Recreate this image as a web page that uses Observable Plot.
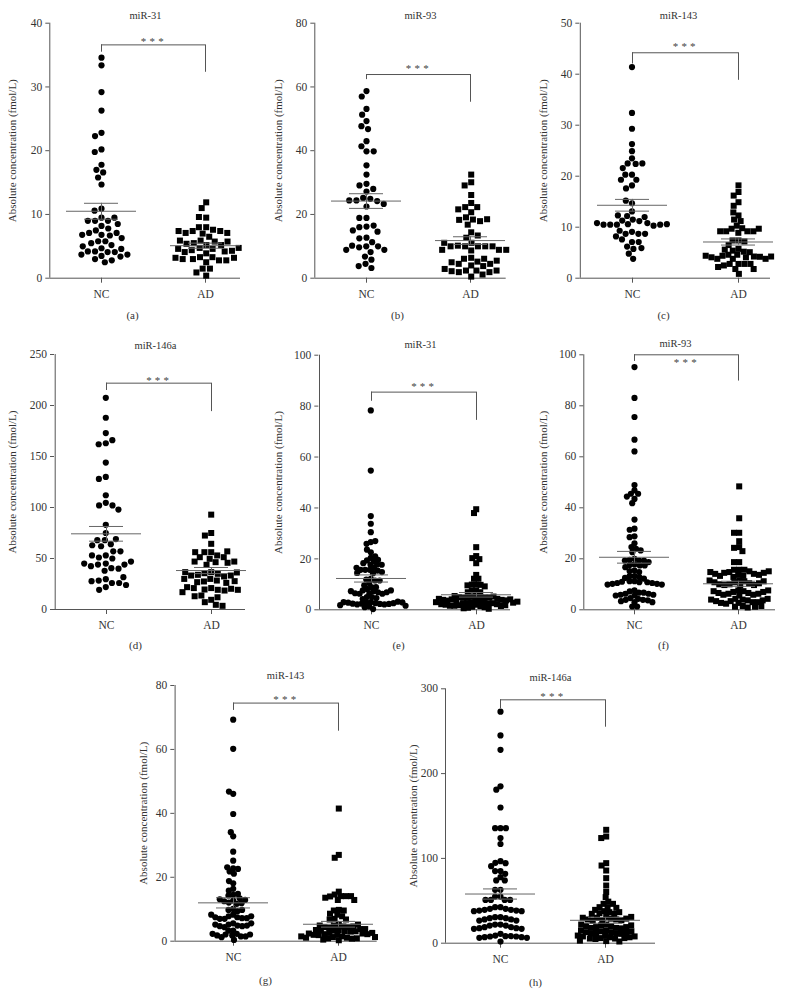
<!DOCTYPE html>
<html>
<head>
<meta charset="utf-8">
<script src="https://cdn.jsdelivr.net/npm/d3@7"></script>
<script src="https://cdn.jsdelivr.net/npm/@observablehq/plot@0.6"></script>
<style>
  body { margin: 0; background: #fff; }
  #fig { position: relative; width: 797px; height: 995px; background: #fff; overflow: hidden; }
  #fig > svg { position: absolute; }
</style>
</head>
<body>
<div id="fig"></div>
<script>
// ---------------- data ----------------
const groups = ["NC", "AD"];
const titles = ["miR-31", "miR-93", "miR-143", "miR-146a", "miR-31", "miR-93", "miR-143", "miR-146a"];
const letters = ["(a)", "(b)", "(c)", "(d)", "(e)", "(f)", "(g)", "(h)"];
const yLabel = "Absolute concentration (fmol/L)";
const stars = "***";

const aTicks = [0, 10, 20, 30, 40];
const bTicks = [0, 20, 40, 60, 80];
const cTicks = [0, 10, 20, 30, 40, 50];
const dTicks = [0, 50, 100, 150, 200, 250];
const eTicks = [0, 20, 40, 60, 80, 100];
const fTicks = [0, 20, 40, 60, 80, 100];
const gTicks = [0, 20, 40, 60, 80];
const hTicks = [0, 100, 200, 300];

const aNC = [34.6,33.4,29.2,26.3,22.8,22.3,20.2,19.8,17.8,17.0,16.6,15.8,14.7,10.9,10.6,9.5,9.0,9.0,9.0,9.5,8.2,8.5,7.5,7.8,6.8,6.7,7.1,7.1,6.8,5.8,5.8,5.5,6.3,5.2,4.7,4.2,4.1,4.1,4.2,4.6,5.0,3.7,3.5,3.4,3.7,3.0,2.5,2.8];
const aAD = [11.9,11.0,9.5,9.6,8.0,8.0,7.6,7.4,7.4,7.0,7.1,7.1,7.4,6.5,5.9,5.75,5.5,5.2,5.2,5.4,5.75,5.9,4.75,4.6,4.4,4.2,3.9,4.1,4.3,4.6,4.75,3.3,3.3,3.0,2.8,2.5,2.8,3.0,3.2,3.2,1.5,1.5,0.9,0.4];

const bNC = [58.7,57.0,53.1,51.3,49.3,47.7,46.8,43.0,41.4,39.8,39.8,35.4,32.5,29.6,29.1,27.2,28.0,25.2,24.9,24.4,24.2,24.4,23.3,22.5,18.9,18.9,16.2,16.0,16.5,14.6,15.0,12.7,12.5,11.3,10.0,9.7,10.0,10.2,8.9,8.9,8.2,6.8,5.8,4.5,3.8,3.2];
const bAD = [32.5,30.1,29.1,26.1,23.6,22.3,22.3,21.6,20.7,19.1,18.4,17.9,16.8,18.3,18.5,14.4,12.7,13.4,11.1,10.0,10.0,10.2,10.0,10.0,10.0,11.1,8.9,8.9,8.7,8.9,6.4,6.1,5.2,4.5,4.0,3.8,4.5,5.0,5.5,6.1,2.4,2.4,1.9,1.15,1.9,2.2,2.4,2.9,0.5];

const cNC = [41.4,32.4,29.3,26.3,24.9,23.5,22.5,22.4,22.5,21.6,20.3,20.3,19.3,19.3,18.2,17.6,14.7,15.2,13.1,12.2,11.5,11.2,11.3,12.0,12.3,10.8,10.6,10.5,10.3,10.5,10.5,10.5,10.6,10.8,9.1,8.7,8.7,9.3,8.7,7.1,7.6,8.2,7.1,6.2,5.75,5.9,4.8,3.8];
const cAD = [18.2,16.9,16.2,14.9,14.2,12.3,12.9,11.5,11.2,10.3,9.8,9.7,9.2,8.9,9.2,9.2,9.2,9.7,7.4,7.4,7.2,6.5,5.75,5.4,5.2,4.6,4.6,5.1,5.6,4.4,4.25,4.2,4.1,3.8,3.8,3.8,4.1,4.25,4.4,2.8,2.8,2.8,2.8,2.5,1.8,1.8,2.2,0.85];

const dNC = [207.5,188,173,163,162,166,144,130,128,112,104.6,102,102,98,83,75,68,64,62,68,69,63,53,51,50,57,57,53,45,44,40.5,40,38,42.5,44,45,47,29.7,28.4,26,26,27.8,31.7,24,22,19.3];
const dAD = [93,75,72.5,64.4,56.2,56.2,53,51.3,49.7,51.3,56.2,57,46.4,47,43.8,45.8,47,36.6,35.6,35,34,32.4,33.3,33.3,36.3,36.6,30,30,28.4,27.5,26.8,27.8,26.1,21,19.6,19.3,21,18.6,20.3,21.9,19.3,17,9.5,13.7,12,13,7.2,4.6,3.6];

const eNC = [78.3,54.7,36.8,33.8,30.5,26.6,25.9,27.0,22.6,23.6,20.4,19.4,19.0,19.6,21.0,18.3,17.7,17.8,17.7,16.5,15.7,15.7,15.4,15.7,16.5,14.8,14.4,14.5,12.2,11.9,11.5,10.5,8.9,8.2,8.9,9.6,11.5,7.6,7.3,6.9,6.5,6.3,6.3,6.5,6.9,7.3,7.6,5.0,5.0,4.6,4.2,3.0,2.8,2.6,2.4,2.3,2.1,2.1,2.3,2.4,2.6,2.8,3.0,3.2,2.9,1.8,1.6,1.3,1.0,0.3];
const eAD = [39.5,38.0,24.6,21.1,20.3,19.9,18.3,13.7,12.2,12.2,9.9,9.9,9.8,9.6,9.2,7.6,7.6,6.9,6.9,5.4,5.2,5.0,4.8,4.7,4.7,4.8,5.0,5.2,5.4,4.3,4.1,3.9,3.7,3.6,3.6,3.7,3.9,4.1,4.3,3.2,3.0,2.8,2.6,2.5,2.5,2.6,2.8,3.0,3.2,2.2,2.0,1.8,1.6,1.5,1.5,1.6,1.8,2.0,2.2,1.2,1.0,0.8,0.6,0.4];

const fNC = [95.2,83.1,75.6,66.7,62.1,48.9,46.8,45.5,45.5,44.4,43.5,41.8,35.4,31.8,31.4,28.8,28.5,26.1,24.6,23.9,23.3,22.6,20.0,19.6,19.3,19.3,19.3,18.7,17.8,17.6,17.4,17.4,16.7,15.4,15.2,14.8,13.2,13.2,12.8,12.5,12.2,11.2,11.2,11.0,10.8,10.8,10.5,10.5,10.2,10.2,9.9,9.9,7.6,7.2,6.7,6.7,6.3,6.3,5.9,5.9,5.6,5.6,4.6,4.3,3.9,3.9,3.7,3.4,3.0,3.0,1.3,1.3];
const fAD = [48.4,35.9,30.2,30.2,26.9,24.6,24.3,23.0,18.7,18.7,15.7,15.7,15.7,15.1,14.8,14.5,14.1,13.7,13.3,12.9,13.3,13.7,14.1,14.5,14.8,15.1,11.5,11.2,10.8,10.4,10.0,9.7,9.5,9.7,10.0,10.4,10.8,11.2,11.5,7.6,7.3,7.0,6.6,6.3,5.9,5.6,5.9,6.3,6.6,7.0,7.3,7.6,4.3,4.0,3.7,3.4,3.0,2.7,2.4,2.7,3.0,3.4,3.7,4.0,4.3,1.5,1.2,0.9,1.2,1.5];

const gNC = [69.3,60.2,46.1,46.8,39.8,32.8,34.1,28.0,25.2,22.8,21.8,21.1,22.6,23.1,16.4,18.1,18.8,15.8,14.5,14.3,14.8,13.4,12.7,12.1,11.7,11.9,12.5,12.9,13.1,10.1,9.8,9.4,9.8,8.3,7.8,7.5,7.2,7.0,7.0,7.2,7.5,7.8,8.3,5.6,5.2,4.9,4.7,4.4,4.7,4.9,5.2,5.6,3.3,3.3,2.3,2.1,1.8,1.5,1.25,1.5,1.8,2.1,2.3,0.4];
const gAD = [41.5,27.0,26.1,15.5,14.6,14.1,14.1,14.0,14.1,13.6,12.9,12.9,9.8,9.6,9.6,8.6,8.3,7.8,7.0,6.8,6.8,5.2,4.9,4.6,4.4,4.2,4.4,4.6,4.9,5.2,3.8,3.5,3.3,3.1,3.0,3.1,3.3,3.5,3.8,2.6,2.4,2.2,2.0,1.9,2.0,2.2,2.4,2.6,1.5,1.3,1.1,0.9,0.8,0.9,1.1,1.3,1.5,0.5,0.3];

const hNC = [273,245,228,185,181,160,135.6,135.6,135.6,124,117,96.7,94.8,94.4,90.8,85,85,81.8,77.9,74,74,63,63,55,55,51,51,51,51,42.5,42.5,40.5,40.5,39.3,39.3,38.5,38.5,37.8,37.8,30.7,30.7,29.5,29.5,28,28,26.7,26.7,22,22,20.8,20.8,18.9,18.9,17.7,17.7,16.9,16.9,11,9,8.3,8.3,7.9,7.9,7.1,7.1,6.3,6.3,2];
const hAD = [133.7,125.8,124,94.4,91.6,85.7,76.7,68,60.4,54.3,49,46.4,46.4,42.5,42.5,41.7,39.3,37.8,36.6,36.6,35.4,34.6,34.6,31,30,29,28,27,26.5,27,28,29,30,31,22,21,20,19,18,17.5,18,19,20,21,22,15,14,13,12,11.5,11,11.5,12,13,14,15,9,8,7,6,5.5,5,5.5,6,7,8,9,3,2.5,2];

// mean and SEM, panels a..h
const meanNC = [10.5, 24.2, 14.3, 74.2, 12.3, 20.6, 12.0, 58.0];
const semNC  = [1.25, 2.3, 1.15, 7.2, 1.4, 2.3, 1.6, 6.0];
const meanAD = [5.1, 11.8, 7.1, 38.2, 5.9, 10.2, 5.3, 27.0];
const semAD  = [0.4, 1.2, 0.6, 3.0, 0.9, 1.0, 0.9, 3.5];

// significance bracket: top, NC leg end, AD leg end
const bracketTop   = [36.6, 63.9, 44.2, 221.9, 85.5, 100, 74.5, 287];
const bracketLeft  = [35.45, 62.3, 42.0, 214.7, 81.9, 97.4, 72.2, 276.4];
const bracketRight = [32.3, 55.2, 38.8, 194, 74.4, 89.7, 65.7, 254.7];

// ---------------- layout (pixels on the page) ----------------
const layout = [
  {box:[0,0,265,330],    axisX:49.3,  yTop:22.7,  y0:277.7, nc:101,   ad:205.7, xEnd:240,   title:[145,14.7],  letter:[132,315], labelDx:-37,   starDy:-6,   padNC:1,    padAD:0.5},
  {box:[265,0,265,330],  axisX:314.3, yTop:22.7,  y0:277.7, nc:366,   ad:470.7, xEnd:505.7, title:[420,14.7],  letter:[397,315], labelDx:-36,   starDy:-9,   padNC:1,    padAD:0.5},
  {box:[530,0,267,330],  axisX:579.3, yTop:22.7,  y0:277.7, nc:631.5, ad:738,   xEnd:770,   title:[678,14.7],  letter:[663,315], labelDx:-36,   starDy:-8.5, padNC:0.5,  padAD:-0.8},
  {box:[0,330,265,330],  axisX:54,    yTop:354,   y0:609,   nc:105.3, ad:210.7, xEnd:245,   title:[155,344.7], letter:[135,645], labelDx:-42,   starDy:-5,   padNC:1,    padAD:0},
  {box:[265,330,265,330],axisX:318.3, yTop:354.7, y0:609.3, nc:370.3, ad:475.7, xEnd:510,   title:[420,344],   letter:[398,645], labelDx:-40,   starDy:-8.5, padNC:-1.6, padAD:-2.4},
  {box:[530,330,267,330],axisX:583.3, yTop:354.3, y0:609.3, nc:634,   ad:738.7, xEnd:775,   title:[675,343.3], letter:[663,645], labelDx:-40,   starDy:5.5,  padNC:-1.3, padAD:-1.6},
  {box:[130,660,270,335],axisX:174.3, yTop:685,   y0:940.7, nc:232.7, ad:338.3, xEnd:376.7, title:[285,675],   letter:[265,980], labelDx:-31,   starDy:-6,   padNC:-1.4, padAD:-1.8},
  {box:[400,660,270,335],axisX:445,   yTop:688.3, y0:942.7, nc:500,   ad:605.7, xEnd:655,   title:[550,676.7], letter:[535,982], labelDx:-32.5, starDy:-6,   padNC:-0.8, padAD:-1.6}
];

const panels = [
  [aNC, aAD, aTicks], [bNC, bAD, bTicks], [cNC, cAD, cTicks], [dNC, dAD, dTicks],
  [eNC, eAD, eTicks], [fNC, fAD, fTicks], [gNC, gAD, gTicks], [hNC, hAD, hTicks]
];

const AXIS = "#555";
const TXT = "#333";
const FONT = "Liberation Serif, Times New Roman, serif";

const fig = document.getElementById("fig");

panels.forEach(([NC, AD, ticks], i) => {
  const L = layout[i];
  const [bx, by, bw, bh] = L.box;
  const marginLeft = L.axisX - bx;
  const marginRight = bx + bw - L.xEnd;
  const marginTop = L.yTop - by;
  const marginBottom = by + bh - L.y0;
  const frameMid = (L.axisX + L.xEnd) / 2;
  const ymax = ticks[ticks.length - 1];

  const ncData = NC.map(v => ({g: "NC", v}));
  const adData = AD.map(v => ({g: "AD", v}));
  const stats = [
    {g: "NC", m: meanNC[i], lo: meanNC[i] - semNC[i], hi: meanNC[i] + semNC[i]},
    {g: "AD", m: meanAD[i], lo: meanAD[i] - semAD[i], hi: meanAD[i] + semAD[i]}
  ];
  const yAxisLine = [{g: "NC", y1: 0, y2: ymax}];
  const legs = [
    {g: "NC", y1: bracketLeft[i], y2: bracketTop[i]},
    {g: "AD", y1: bracketRight[i], y2: bracketTop[i]}
  ];
  const topBar = [{x1: "NC", x2: "AD", y: bracketTop[i]}];

  const svg = Plot.plot({
    width: bw, height: bh,
    marginLeft, marginRight, marginTop, marginBottom,
    style: {background: "transparent", fontFamily: FONT, color: TXT, overflow: "visible"},
    x: {type: "point", domain: groups, range: [L.nc - bx, L.ad - bx], padding: 0},
    y: {domain: [0, ymax]},
    marks: [
      Plot.ruleY([0], {stroke: AXIS, strokeWidth: 1}),
      Plot.ruleX(yAxisLine, {x: "g", y1: "y1", y2: "y2", dx: L.axisX - L.nc, stroke: AXIS, strokeWidth: 1}),
      Plot.axisY({ticks, tickSize: 4, tickPadding: 3.5, label: null, stroke: AXIS, fill: TXT, fontSize: 11.5, fontFamily: FONT}),
      Plot.axisX({tickSize: 5, tickPadding: 6.5, label: null, stroke: AXIS, fill: TXT, fontSize: 11.5, fontFamily: FONT}),
      Plot.dot(ncData, Plot.dodgeX({anchor: "middle", padding: L.padNC}, {y: "v", r: 3.1, fill: "#000", stroke: null, dx: L.nc - frameMid})),
      Plot.dot(adData, Plot.dodgeX({anchor: "middle", padding: L.padAD}, {y: "v", r: 3.4, symbol: "square", fill: "#000", stroke: null, dx: L.ad - frameMid})),
      // mean lines
      Plot.ruleY(stats, {x1: "g", x2: "g", y: "m", insetLeft: -35, insetRight: -35, stroke: "#666", strokeWidth: 1}),
      // SEM bars + caps
      Plot.ruleX(stats, {x: "g", y1: "lo", y2: "hi", stroke: "#666", strokeWidth: 1}),
      Plot.ruleY(stats, {x1: "g", x2: "g", y: "hi", insetLeft: -17, insetRight: -17, stroke: "#666", strokeWidth: 1}),
      Plot.ruleY(stats, {x1: "g", x2: "g", y: "lo", insetLeft: -17, insetRight: -17, stroke: "#666", strokeWidth: 1}),
      // significance bracket
      Plot.ruleY(topBar, {x1: "x1", x2: "x2", y: "y", stroke: AXIS, strokeWidth: 1}),
      Plot.ruleX(legs, {x: "g", y1: "y1", y2: "y2", stroke: AXIS, strokeWidth: 1}),
      Plot.text([{g: "NC", y: bracketTop[i]}], {x: "g", y: "y", text: () => stars, dx: (L.ad - L.nc) / 2, dy: L.starDy + 2.5, fontSize: 11, fill: "#444", fontFamily: FONT, lineAnchor: "middle"}),
      // title, y label, panel letter
      Plot.text([titles[i]], {text: d => d, frameAnchor: "top", dx: L.title[0] - frameMid, dy: L.title[1] - L.yTop, lineAnchor: "middle", fontSize: 10.5, fill: TXT, fontFamily: FONT}),
      Plot.text([yLabel], {text: d => d, frameAnchor: "left", rotate: -90, dx: L.labelDx, textAnchor: "middle", lineAnchor: "middle", fontSize: 11, fill: TXT, fontFamily: FONT}),
      Plot.text([letters[i]], {text: d => d, frameAnchor: "bottom", dx: L.letter[0] - frameMid, dy: L.letter[1] - L.y0, lineAnchor: "middle", fontSize: 11, fill: TXT, fontFamily: FONT})
    ]
  });
  svg.style.left = bx + "px";
  svg.style.top = by + "px";
  svg.querySelectorAll("text").forEach(t => {
    if (t.textContent === stars) t.setAttribute("letter-spacing", "3.2");
  });
  fig.appendChild(svg);
});
</script>
</body>
</html>
